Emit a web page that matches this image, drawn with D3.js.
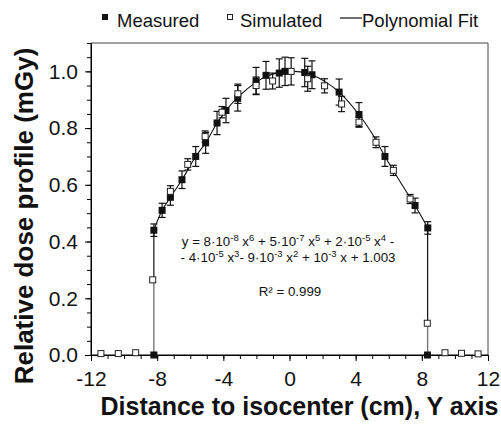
<!DOCTYPE html>
<html>
<head>
<meta charset="utf-8">
<script src="https://cdn.jsdelivr.net/npm/d3@7"></script>
<style>
  html, body { margin: 0; padding: 0; background: #fff; }
  svg { display: block; font-family: Arial, "Liberation Sans", sans-serif; }
</style>
</head>
<body>
<svg id="chart" width="501" height="424"></svg>
<script>
// ---- Data ----
const measuredX   = [-8.2, -8.2, -7.7, -7.2, -6.5, -5.67, -5.07, -4.38, -3.84, -3.13, -2.02, -1.42, -0.62, -0.27, 0.92, 1.36, 3.0, 4.2, 5.77, 7.59, 8.36, 8.34];
const measuredY   = [0.0, 0.44, 0.51, 0.556, 0.618, 0.70, 0.748, 0.818, 0.862, 0.905, 0.966, 0.986, 0.994, 1.0, 0.996, 0.988, 0.927, 0.848, 0.70, 0.527, 0.448, 0.0];
const measuredErr = [0, 0.022, 0.025, 0.028, 0.031, 0.035, 0.037, 0.041, 0.043, 0.045, 0.048, 0.049, 0.05, 0.05, 0.05, 0.049, 0.046, 0.042, 0.035, 0.026, 0.022, 0];

const simulatedX   = [-11.4, -10.35, -9.3, -8.27, -7.2, -6.15, -5.1, -4.08, -3.12, -2.02, -1.02, 0.1, 1.1, 2.12, 3.15, 4.2, 5.23, 6.28, 7.29, 8.33, 9.4, 10.4, 11.4];
const simulatedY   = [0.005, 0.005, 0.008, 0.265, 0.577, 0.672, 0.77, 0.856, 0.921, 0.950, 0.966, 1.0, 0.974, 0.949, 0.885, 0.821, 0.75, 0.651, 0.55, 0.112, 0.008, 0.006, 0.004];
const simulatedErr = [0, 0, 0, 0, 0.02, 0.02, 0.02, 0.02, 0.034, 0.03, 0.028, 0.048, 0.044, 0.025, 0.027, 0.018, 0.019, 0.018, 0.016, 0, 0, 0, 0];

// Polynomial fit line
const fitX = [-8.2, -7.7, -7.2, -6.5, -5.67, -5.07, -4.38, -3.84, -3.13, -2.02, -1.42, -0.62, -0.27, 0.3, 0.92, 1.36, 2.2, 3.0, 4.2, 5.0, 5.77, 6.7, 7.59, 8.36];
const fitY = [0.44, 0.51, 0.556, 0.618, 0.70, 0.748, 0.818, 0.862, 0.908, 0.962, 0.982, 0.996, 1.0, 1.0, 0.996, 0.988, 0.962, 0.927, 0.848, 0.78, 0.70, 0.61, 0.527, 0.448];
const edgeX = [-8.2, 8.35];
const edgeTopY = [0.44, 0.448];
const edgeSimY = [0.265, 0.112];

const xTicks = [-12, -8, -4, 0, 4, 8, 12];
const yTicks = [0.0, 0.2, 0.4, 0.6, 0.8, 1.0];
const legendLabels = ["Measured", "Simulated", "Polynomial Fit"];

// ---- Layout ----
const svg = d3.select("#chart");
const L = 91, R = 488, T = 43, B = 355;
const x = d3.scaleLinear().domain([-12, 12]).range([L, R]);
const y = d3.scaleLinear().domain([0, 1.1]).range([B, T]);

// frame (top/right)
svg.append("path")
  .attr("d", `M${L},${T}H${R}V${B}`)
  .attr("fill", "none").attr("stroke", "#444").attr("stroke-width", 1);

// X axis
const xMinor = d3.range(-12, 13, 1);
const xAxisMinor = d3.axisBottom(x).tickValues(xMinor).tickSize(4).tickFormat("");
const gxm = svg.append("g").attr("transform", `translate(0,${B})`).call(xAxisMinor);
gxm.select(".domain").remove();
const xAxis = d3.axisBottom(x).tickValues(xTicks).tickSize(6).tickPadding(10)
  .tickFormat(d => d < 0 ? "-" + Math.abs(d) : String(d)).tickSizeOuter(0);
const gx = svg.append("g").attr("transform", `translate(0,${B})`).call(xAxis);
gx.selectAll("text").attr("font-size", 21).attr("fill", "#111").attr("font-family", "Arial, 'Liberation Sans', sans-serif");

// Y axis
const yMinor = d3.range(0, 1.101, 0.05);
const yAxisMinor = d3.axisLeft(y).tickValues(yMinor).tickSize(4).tickFormat("");
const gym = svg.append("g").attr("transform", `translate(${L},0)`).call(yAxisMinor);
gym.select(".domain").remove();
const yAxis = d3.axisLeft(y).tickValues(yTicks).tickSize(6).tickPadding(7)
  .tickFormat(d3.format(".1f")).tickSizeOuter(0);
const gy = svg.append("g").attr("transform", `translate(${L},0)`).call(yAxis);
gy.selectAll("text").attr("font-size", 21).attr("fill", "#111").attr("font-family", "Arial, 'Liberation Sans', sans-serif");
svg.selectAll(".domain").attr("stroke", "#000");
svg.selectAll(".tick line").attr("stroke", "#000");
svg.append("line").attr("x1", L).attr("x2", L).attr("y1", T).attr("y2", B).attr("stroke", "#000");
svg.append("line").attr("x1", L).attr("x2", R).attr("y1", B).attr("y2", B).attr("stroke", "#000");

// Axis titles
svg.append("text")
  .attr("x", 299.5).attr("y", 415)
  .attr("text-anchor", "middle").attr("font-weight", "bold").attr("font-size", 25)
  .attr("fill", "#111")
  .text("Distance to isocenter (cm), Y axis");
svg.append("text")
  .attr("transform", `translate(33,216) rotate(-90)`)
  .attr("text-anchor", "middle").attr("font-weight", "bold").attr("font-size", 26)
  .attr("fill", "#111")
  .text("Relative dose profile (mGy)");

// Edge vertical lines
edgeX.forEach((ex, i) => {
  svg.append("line").attr("x1", x(ex)).attr("x2", x(ex))
    .attr("y1", y(edgeSimY[i])).attr("y2", y(edgeTopY[i]))
    .attr("stroke", "#111").attr("stroke-width", 1.2);
  svg.append("line").attr("x1", x(ex)).attr("x2", x(ex))
    .attr("y1", y(0)).attr("y2", y(edgeSimY[i]))
    .attr("stroke", "#777").attr("stroke-width", 1.4);
});

// Fit line
const fitData = fitX.map((d, i) => [d, fitY[i]]);
svg.append("path")
  .datum(fitData)
  .attr("d", d3.line().x(d => x(d[0])).y(d => y(d[1])).curve(d3.curveCatmullRom.alpha(0.5)))
  .attr("fill", "none").attr("stroke", "#111").attr("stroke-width", 1.1);

// Error bars helper
function errBars(xs, ys, es, color) {
  const g = svg.append("g").attr("stroke", color).attr("stroke-width", 1.2);
  xs.forEach((xv, i) => {
    const e = es[i];
    if (!e) return;
    const cx = x(xv), y1 = y(ys[i] + e), y2 = y(ys[i] - e);
    g.append("line").attr("x1", cx).attr("x2", cx).attr("y1", y1).attr("y2", y2);
    g.append("line").attr("x1", cx - 3.5).attr("x2", cx + 3.5).attr("y1", y1).attr("y2", y1);
    g.append("line").attr("x1", cx - 3.5).attr("x2", cx + 3.5).attr("y1", y2).attr("y2", y2);
  });
}

errBars(measuredX, measuredY, measuredErr, "#111");
errBars(simulatedX, simulatedY, simulatedErr, "#111");

// Measured markers (filled squares)
const ms = 7;
svg.append("g").selectAll("rect")
  .data(measuredX.map((d, i) => [d, measuredY[i]]))
  .join("rect")
  .attr("x", d => x(d[0]) - ms / 2).attr("y", d => y(d[1]) - ms / 2)
  .attr("width", ms).attr("height", ms).attr("fill", "#111");

// Simulated markers (open squares)
const ss = 6;
svg.append("g").selectAll("rect")
  .data(simulatedX.map((d, i) => [d, simulatedY[i]]))
  .join("rect")
  .attr("x", d => x(d[0]) - ss / 2).attr("y", d => y(d[1]) - ss / 2)
  .attr("width", ss).attr("height", ss).attr("fill", "#fff")
  .attr("stroke", "#222").attr("stroke-width", 1);

// Legend
const lg = svg.append("g").attr("font-size", 18.5).attr("fill", "#111");
lg.append("rect").attr("x", 102).attr("y", 14).attr("width", 6).attr("height", 6).attr("fill", "#111");
lg.append("text").attr("x", 117).attr("y", 27).text(legendLabels[0]);
lg.append("rect").attr("x", 227.5).attr("y", 14.5).attr("width", 5).attr("height", 5)
  .attr("fill", "#fff").attr("stroke", "#222").attr("stroke-width", 1);
lg.append("text").attr("x", 240).attr("y", 27).text(legendLabels[1]);
lg.append("line").attr("x1", 340).attr("x2", 362).attr("y1", 18).attr("y2", 18)
  .attr("stroke", "#111").attr("stroke-width", 1.2);
lg.append("text").attr("x", 362).attr("y", 27).text(legendLabels[2]);

// Equation annotation
const eq = svg.append("g").attr("font-size", 13.3).attr("fill", "#111").attr("text-anchor", "middle");
function eqLine(yPos, parts) {
  const t = eq.append("text").attr("x", 288).attr("y", yPos);
  let up = false;
  parts.forEach(p => {
    if (p.sup) {
      t.append("tspan").attr("dy", up ? 0 : -5).attr("font-size", 9.5).text(p.sup);
      up = true;
    } else {
      t.append("tspan").attr("dy", up ? 5 : 0).text(p.t);
      up = false;
    }
  });
}
eqLine(246, [
  {t: "y = 8·10"}, {sup: "-8"}, {t: " x"}, {sup: "6"}, {t: " + 5·10"}, {sup: "-7"}, {t: " x"}, {sup: "5"},
  {t: " + 2·10"}, {sup: "-5"}, {t: " x"}, {sup: "4"}, {t: " -"}
]);
eqLine(262, [
  {t: "- 4·10"}, {sup: "-5"}, {t: " x"}, {sup: "3"}, {t: "- 9·10"}, {sup: "-3"}, {t: " x"}, {sup: "2"},
  {t: " + 10"}, {sup: "-3"}, {t: " x + 1.003"}
]);
eq.append("text").attr("x", 290).attr("y", 296).text("R² = 0.999");
</script>
</body>
</html>
